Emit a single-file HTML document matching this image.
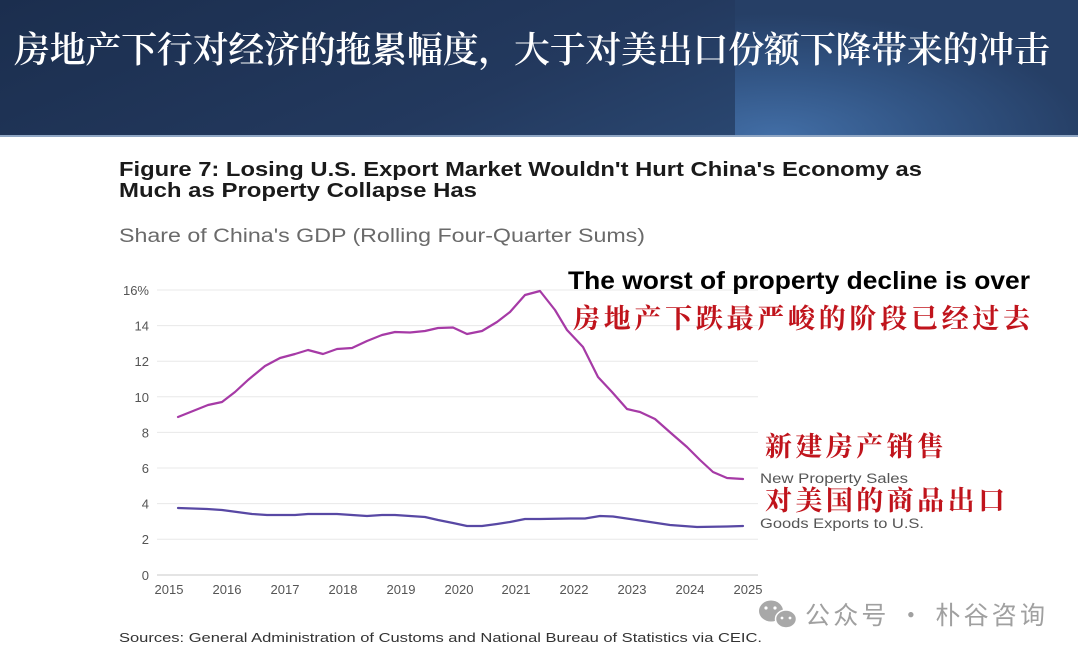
<!DOCTYPE html>
<html>
<head>
<meta charset="utf-8">
<style>
html,body{margin:0;padding:0;background:#fff;}
svg{display:block;}
</style>
</head>
<body>
<svg width="1080" height="661" viewBox="0 0 1080 661" xmlns="http://www.w3.org/2000/svg">
  <defs>
    <linearGradient id="hdr" x1="0" y1="0" x2="1" y2="0.3">
      <stop offset="0" stop-color="#1b2e4e"/>
      <stop offset="0.6" stop-color="#23395e"/>
      <stop offset="1" stop-color="#2c4b76"/>
    </linearGradient>
    <radialGradient id="glow" cx="0.12" cy="1" r="0.9">
      <stop offset="0" stop-color="#426ea6"/>
      <stop offset="0.5" stop-color="#325585"/>
      <stop offset="1" stop-color="#263f66"/>
    </radialGradient>
  </defs>

  <!-- Header -->
  <rect x="0" y="0" width="1080" height="137" fill="url(#hdr)"/>
  <rect x="735" y="0" width="343" height="137" fill="url(#glow)"/>
  <rect x="0" y="135" width="1078" height="2" fill="#8fa6c4"/>
  <rect x="1078" y="0" width="2" height="137" fill="#ffffff"/>
  <text x="14" y="62" fill="#ffffff" font-family="'Noto Serif CJK SC','WenQuanYi Zen Hei',serif" font-weight="600" font-size="36" textLength="1036" lengthAdjust="spacing">房地产下行对经济的拖累幅度，大于对美出口份额下降带来的冲击</text>

  <!-- Chart titles -->
  <text x="119" y="176" fill="#1a1a1a" font-family="'Liberation Sans',Arial,sans-serif" font-weight="bold" font-size="20" textLength="803" lengthAdjust="spacingAndGlyphs">Figure 7: Losing U.S. Export Market Wouldn't Hurt China's Economy as</text>
  <text x="119" y="197" fill="#1a1a1a" font-family="'Liberation Sans',Arial,sans-serif" font-weight="bold" font-size="20" textLength="358" lengthAdjust="spacingAndGlyphs">Much as Property Collapse Has</text>
  <text x="119" y="242" fill="#6a6a6a" font-family="'Liberation Sans',Arial,sans-serif" font-size="19" textLength="526" lengthAdjust="spacingAndGlyphs">Share of China's GDP (Rolling Four-Quarter Sums)</text>

  <!-- Gridlines -->
  <g stroke="#e8e8e8" stroke-width="1">
    <line x1="157" y1="290" x2="758" y2="290"/>
    <line x1="157" y1="325.6" x2="758" y2="325.6"/>
    <line x1="157" y1="361.2" x2="758" y2="361.2"/>
    <line x1="157" y1="396.8" x2="758" y2="396.8"/>
    <line x1="157" y1="432.4" x2="758" y2="432.4"/>
    <line x1="157" y1="468" x2="758" y2="468"/>
    <line x1="157" y1="503.6" x2="758" y2="503.6"/>
    <line x1="157" y1="539.2" x2="758" y2="539.2"/>
  </g>
  <line x1="157" y1="575" x2="758" y2="575" stroke="#d4d4d4" stroke-width="1.2"/>

  <!-- Y labels -->
  <g fill="#555" font-family="'Liberation Sans',Arial,sans-serif" font-size="13" text-anchor="end">
    <text x="149" y="295">16%</text>
    <text x="149" y="330.6">14</text>
    <text x="149" y="366.2">12</text>
    <text x="149" y="401.8">10</text>
    <text x="149" y="437.4">8</text>
    <text x="149" y="473">6</text>
    <text x="149" y="508.6">4</text>
    <text x="149" y="544.2">2</text>
    <text x="149" y="580">0</text>
  </g>

  <!-- X labels -->
  <g fill="#555" font-family="'Liberation Sans',Arial,sans-serif" font-size="13" text-anchor="middle">
    <text x="169" y="594">2015</text>
    <text x="227" y="594">2016</text>
    <text x="285" y="594">2017</text>
    <text x="343" y="594">2018</text>
    <text x="401" y="594">2019</text>
    <text x="459" y="594">2020</text>
    <text x="516" y="594">2021</text>
    <text x="574" y="594">2022</text>
    <text x="632" y="594">2023</text>
    <text x="690" y="594">2024</text>
    <text x="748" y="594">2025</text>
  </g>

  <!-- Series -->
  <polyline fill="none" stroke="#a63aa6" stroke-width="2.2" stroke-linejoin="round" stroke-linecap="round"
    points="178,417 193,411 208,405 222,402 235,392 248,380 265,366 280,358 295,354 308,350 323,354 337,349 352,348 367,341 382,335 395,332 410,332.5 425,331 438,328 453,327.5 467,334 482,331 497,322 510,312 525,295 540,291 555,310 567,330 583,347 598,377 612,392 627,409 640,412 655,419 672,434 687,447 700,460 713,472 727,478 743,479"/>
  <polyline fill="none" stroke="#5848a4" stroke-width="2.2" stroke-linejoin="round" stroke-linecap="round"
    points="178,508 207,509 222,510 237,512 252,514 267,515 295,515 308,514 337,514 352,515 367,516 382,515 395,515 410,516 425,517 438,520 453,523 467,526 482,526 497,524 510,522 525,519 540,519 570,518.5 585,518.5 600,516 613,516.5 640,520.5 670,525 697,527 727,526.5 743,526"/>

  <!-- Annotations -->
  <text x="568" y="289" fill="#000" font-family="'Liberation Sans',Arial,sans-serif" font-weight="bold" font-size="25" textLength="462" lengthAdjust="spacingAndGlyphs">The worst of property decline is over</text>
  <text x="573" y="328" fill="#c0141c" font-family="'Noto Serif CJK SC',serif" font-weight="700" font-size="27" textLength="457" lengthAdjust="spacing">房地产下跌最严峻的阶段已经过去</text>
  <text x="765" y="456" fill="#c0141c" font-family="'Noto Serif CJK SC',serif" font-weight="700" font-size="27" textLength="179" lengthAdjust="spacing">新建房产销售</text>
  <text x="760" y="483" fill="#555" font-family="'Liberation Sans',Arial,sans-serif" font-size="13.5" textLength="148" lengthAdjust="spacingAndGlyphs">New Property Sales</text>
  <text x="765" y="510" fill="#c0141c" font-family="'Noto Serif CJK SC',serif" font-weight="700" font-size="27" textLength="240" lengthAdjust="spacing">对美国的商品出口</text>
  <text x="760" y="528" fill="#555" font-family="'Liberation Sans',Arial,sans-serif" font-size="13.5" textLength="164" lengthAdjust="spacingAndGlyphs">Goods Exports to U.S.</text>

  <!-- Watermark -->
  <g fill="#a8a8a8">
    <ellipse cx="771" cy="611" rx="12" ry="10.5"/>
    <ellipse cx="786" cy="619" rx="10.5" ry="9" stroke="#fff" stroke-width="1.5"/>
  </g>
  <g fill="#fff">
    <circle cx="766" cy="608" r="1.6"/>
    <circle cx="775" cy="608" r="1.6"/>
    <circle cx="782" cy="618" r="1.4"/>
    <circle cx="790" cy="618" r="1.4"/>
  </g>
  <text x="805" y="624" fill="#a0a0a0" font-family="'Noto Sans CJK SC',sans-serif" font-size="25" textLength="240" lengthAdjust="spacing">公众号 · 朴谷咨询</text>

  <!-- Sources -->
  <text x="119" y="642" fill="#333" font-family="'Liberation Sans',Arial,sans-serif" font-size="13" textLength="643" lengthAdjust="spacingAndGlyphs">Sources: General Administration of Customs and National Bureau of Statistics via CEIC.</text>
</svg>
</body>
</html>
